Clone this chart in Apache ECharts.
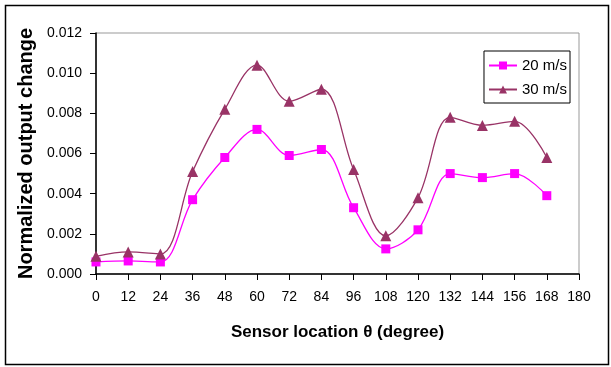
<!DOCTYPE html>
<html>
<head>
<meta charset="utf-8">
<script src="https://cdn.jsdelivr.net/npm/echarts@6/dist/echarts.min.js"></script>
<style>
  html, body { margin: 0; padding: 0; background: #fff; }
  #chart { width: 611px; height: 367px; }
</style>
</head>
<body>
<div id="chart"></div>
<script>
// sensor location (degree)
const angles = [0, 12, 24, 36, 48, 60, 72, 84, 96, 108, 120, 132, 144, 156, 168];
// normalized output change
const v20 = [0.0006, 0.00065, 0.0006, 0.0037, 0.0058, 0.0072, 0.0059, 0.0062, 0.0033, 0.00125, 0.0022, 0.0050, 0.0048, 0.0050, 0.0039];
const v30 = [0.00088, 0.0011, 0.001, 0.0051, 0.0082, 0.0104, 0.0086, 0.0092, 0.0052, 0.0019, 0.0038, 0.0078, 0.0074, 0.0076, 0.0058];

const pairs = (ys) => angles.map((x, i) => [x, ys[i]]);

const myChart = echarts.init(document.getElementById('chart'));
const font = 'Liberation Sans, Arial, sans-serif';

myChart.setOption({
  animation: false,
  backgroundColor: '#fff',
  graphic: [{
    type: 'rect',
    shape: { x: 5.5, y: 5.5, width: 603, height: 359 },
    style: { fill: 'none', stroke: '#000', lineWidth: 1.5 }
  }],
  grid: {
    left: 96, right: 32, top: 33, bottom: 93,
    show: true, borderColor: '#999', borderWidth: 1
  },
  legend: {
    right: 41, top: 51,
    orient: 'vertical',
    itemWidth: 28, itemHeight: 10, itemGap: 9,
    padding: [7, 3, 6, 4],
    borderColor: '#000', borderWidth: 1,
    backgroundColor: '#fff',
    textStyle: { fontFamily: font, fontSize: 15, color: '#000' }
  },
  xAxis: {
    type: 'value', min: 0, max: 180, interval: 12,
    name: 'Sensor location θ (degree)',
    nameLocation: 'middle', nameGap: 50,
    nameTextStyle: { fontFamily: font, fontSize: 17, fontWeight: 'bold', color: '#000' },
    axisLine: { show: true, lineStyle: { color: '#000', width: 1.5 } },
    axisTick: { show: true, length: 6, lineStyle: { color: '#000' } },
    axisLabel: { fontFamily: font, fontSize: 14, color: '#000', margin: 16 },
    splitLine: { show: false }
  },
  yAxis: {
    type: 'value', min: 0, max: 0.012, interval: 0.002,
    name: 'Normalized output change',
    nameLocation: 'middle', nameGap: 43,
    nameTextStyle: { fontFamily: font, fontSize: 20, fontWeight: 'bold', color: '#000' },
    axisLine: { show: true, lineStyle: { color: '#000', width: 1.5 } },
    axisTick: { show: true, length: 6, lineStyle: { color: '#000' } },
    axisLabel: { fontFamily: font, fontSize: 14, color: '#000', margin: 14,
      formatter: (v) => v.toFixed(3) },
    splitLine: { show: false }
  },
  series: [
    {
      name: '20 m/s', type: 'line', smooth: 0.35,
      data: pairs(v20),
      symbol: 'rect', symbolSize: 9,
      lineStyle: { color: '#ff00ff', width: 1.3 },
      itemStyle: { color: '#ff00ff' }
    },
    {
      name: '30 m/s', type: 'line', smooth: 0.35,
      data: pairs(v30),
      symbol: 'triangle', symbolSize: 11,
      lineStyle: { color: '#993366', width: 1.3 },
      itemStyle: { color: '#993366' }
    }
  ]
});
</script>
</body>
</html>
